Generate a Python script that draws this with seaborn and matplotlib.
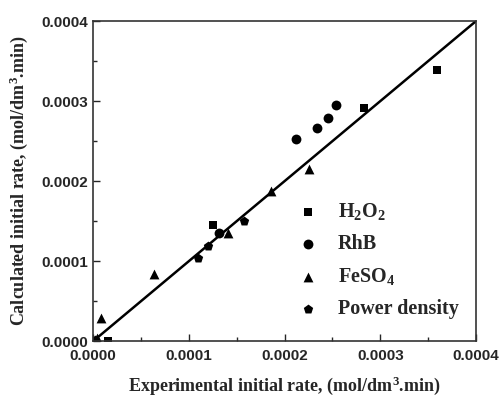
import matplotlib
matplotlib.use("Agg")
import matplotlib.pyplot as plt
import seaborn as sns
import numpy as np
from matplotlib.ticker import MultipleLocator, FormatStrFormatter

# data (mol/dm3.min)
h2o2_exp = [0.0000150, 0.0001252, 0.0002830, 0.0003595]
h2o2_calc = [0.0000000, 0.0001449, 0.0002920, 0.0003390]

rhb_exp = [0.0001311, 0.0002124, 0.0002344, 0.0002455, 0.0002542]
rhb_calc = [0.0001349, 0.0002530, 0.0002664, 0.0002793, 0.0002952]

feso4_exp = [0.0000040, 0.0000077, 0.0000631, 0.0001405, 0.0001855, 0.0002260]
feso4_calc = [0.0000040, 0.0000292, 0.0000835, 0.0001353, 0.0001875, 0.0002146]

power_exp = [0.0000020, 0.0001100, 0.0001196, 0.0001573]
power_calc = [0.0000010, 0.0001040, 0.0001190, 0.0001503]

line_x = [0.0, 0.0004]
line_y = [0.0, 0.0004]

sns.set_style("ticks")
plt.rcParams["mathtext.fontset"] = "custom"
plt.rcParams["mathtext.rm"] = "Liberation Serif:bold"
plt.rcParams["mathtext.it"] = "Liberation Serif:bold"
plt.rcParams["mathtext.bf"] = "Liberation Serif:bold"

fig, ax = plt.subplots(figsize=(5.01, 3.99), dpi=100)
fig.subplots_adjust(left=0.186, right=0.950, top=0.947, bottom=0.145)

sns.lineplot(x=line_x, y=line_y, color="black", linewidth=1.8, ax=ax)

sns.scatterplot(x=h2o2_exp, y=h2o2_calc, marker="s", s=38, color="black",
                edgecolor="black", linewidth=0, ax=ax, label="H$_2$O$_2$")
sns.scatterplot(x=rhb_exp, y=rhb_calc, marker="o", s=50, color="black",
                edgecolor="black", linewidth=0, ax=ax, label="RhB")
sns.scatterplot(x=feso4_exp, y=feso4_calc, marker="^", s=50, color="black",
                edgecolor="black", linewidth=0, ax=ax, label="FeSO$_4$")
sns.scatterplot(x=power_exp, y=power_calc, marker="p", s=50, color="black",
                edgecolor="black", linewidth=0, ax=ax, label="Power density")

ax.set_xlim(0, 0.0004)
ax.set_ylim(0, 0.0004)
ax.xaxis.set_major_locator(MultipleLocator(0.0001))
ax.yaxis.set_major_locator(MultipleLocator(0.0001))
ax.xaxis.set_minor_locator(MultipleLocator(0.00005))
ax.yaxis.set_minor_locator(MultipleLocator(0.00005))
ax.xaxis.set_major_formatter(FormatStrFormatter("%.4f"))
ax.yaxis.set_major_formatter(FormatStrFormatter("%.4f"))

ax.tick_params(which="both", direction="in", top=False, right=False, width=1)
ax.tick_params(which="major", length=5)
ax.tick_params(which="minor", length=3)
ax.tick_params(axis="x", pad=6)
for lab in ax.get_xticklabels() + ax.get_yticklabels():
    lab.set_fontfamily("Liberation Sans")
    lab.set_fontweight("bold")
    lab.set_fontsize(11)

for sp in ax.spines.values():
    sp.set_color("#333333")
    sp.set_linewidth(1.2)

ax.set_xlabel("Experimental initial rate, (mol/dm$^3$.min)", fontfamily="Liberation Serif",
              fontweight="bold", fontsize=13, labelpad=8)
ax.set_ylabel("Calculated initial rate, (mol/dm$^3$.min)", fontfamily="Liberation Serif",
              fontweight="bold", fontsize=13, labelpad=8)

leg = ax.legend(loc="lower right", bbox_to_anchor=(0.992, 0.025), frameon=False,
                prop={"family": "Liberation Serif", "weight": "bold", "size": 14.5},
                handletextpad=0.5, labelspacing=0.6, borderaxespad=0.3)

plt.savefig("out.png", dpi=100)
